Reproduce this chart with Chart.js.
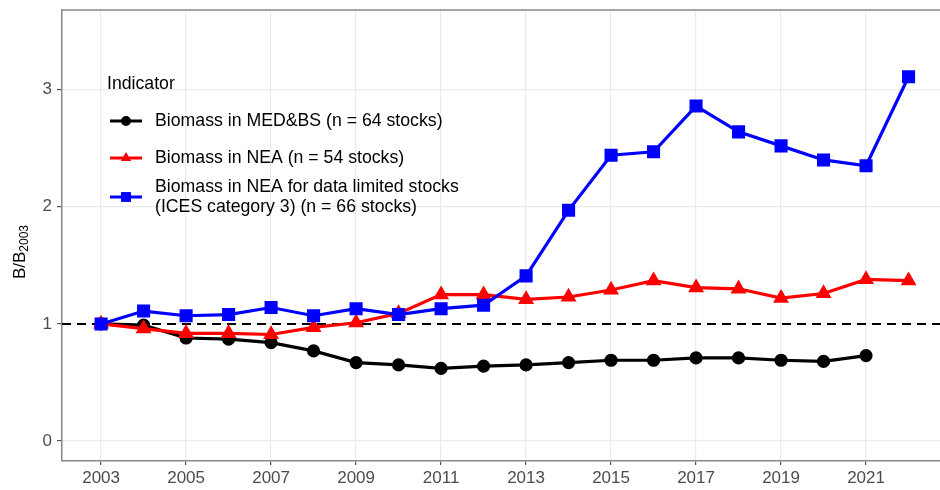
<!DOCTYPE html>
<html lang="en">

<head>
    <meta charset="UTF-8">
    <title>Biomass indicators</title>
    <style>
        body {
            margin: 0;
            padding: 0;
            background-color: #fff;
        }
    </style>
    <script src="https://cdn.jsdelivr.net/npm/chart.js"></script>
</head>

<body>
    <canvas id="biomassChart" width="940" height="490"></canvas>

    <script>
        // Datos
        const years = [2003, 2004, 2005, 2006, 2007, 2008, 2009, 2010, 2011, 2012,
            2013, 2014, 2015, 2016, 2017, 2018, 2019, 2020, 2021, 2022];
        const medbs = [1.00, 0.99, 0.88, 0.87, 0.84, 0.77, 0.67, 0.65, 0.62, 0.64,
            0.65, 0.67, 0.69, 0.69, 0.71, 0.71, 0.69, 0.68, 0.73];
        const nea = [1.00, 0.96, 0.92, 0.92, 0.91, 0.97, 1.01, 1.09, 1.25, 1.25,
            1.21, 1.23, 1.29, 1.37, 1.31, 1.30, 1.22, 1.26, 1.38, 1.37];
        const neaCat3 = [1.00, 1.11, 1.07, 1.08, 1.14, 1.07, 1.13, 1.08, 1.13, 1.16,
            1.41, 1.97, 2.44, 2.47, 2.86, 2.64, 2.52, 2.40, 2.35, 3.11];
        const xTicks = [2003, 2005, 2007, 2009, 2011, 2013, 2015, 2017, 2019, 2021];
        const yTicks = [0, 1, 2, 3];
        const legendTitle = 'Indicator';
        const seriesNames = [
            ['Biomass in MED&BS (n = 64 stocks)'],
            ['Biomass in NEA (n = 54 stocks)'],
            ['Biomass in NEA for data limited stocks', '(ICES category 3) (n = 66 stocks)']
        ];

        const FONT = "'Liberation Sans', Arial, sans-serif";
        const toPoints = (vals) => vals.map((v, i) => ({ x: years[i], y: v }));

        // quitar el relleno automatico que Chart.js deja para las etiquetas
        const noPad = (axis) => {
            axis.paddingLeft = 0;
            axis.paddingRight = 0;
            axis.paddingTop = 0;
            axis.paddingBottom = 0;
        };

        // Linea de referencia, borde, titulo del eje y leyenda dentro del panel
        const extrasPlugin = {
            id: 'extras',
            beforeDatasetsDraw(chart) {
                const { ctx, chartArea, scales } = chart;
                const y1 = scales.y.getPixelForValue(1);
                ctx.save();
                ctx.strokeStyle = '#000';
                ctx.lineWidth = 2;
                ctx.setLineDash([9, 6]);
                ctx.beginPath();
                ctx.moveTo(chartArea.left, y1);
                ctx.lineTo(chartArea.right, y1);
                ctx.stroke();
                ctx.restore();
            },
            afterDraw(chart) {
                const { ctx, chartArea } = chart;
                ctx.save();
                // borde superior
                ctx.strokeStyle = '#888';
                ctx.lineWidth = 1.5;
                ctx.beginPath();
                ctx.moveTo(chartArea.left, chartArea.top);
                ctx.lineTo(chartArea.right, chartArea.top);
                ctx.stroke();

                // titulo eje y: B/B2003 con subindice
                ctx.translate(20, 252);
                ctx.rotate(-Math.PI / 2);
                ctx.fillStyle = '#000';
                ctx.textBaseline = 'middle';
                ctx.font = '17px ' + FONT;
                const w1 = ctx.measureText('B/B').width;
                ctx.font = '12px ' + FONT;
                const w2 = ctx.measureText('2003').width;
                const start = -(w1 + w2) / 2;
                ctx.font = '17px ' + FONT;
                ctx.textAlign = 'left';
                ctx.fillText('B/B', start, 0);
                ctx.font = '12px ' + FONT;
                ctx.fillText('2003', start + w1, 5);
                ctx.restore();

                // leyenda
                ctx.save();
                ctx.font = '17.7px ' + FONT;
                ctx.fillStyle = '#000';
                ctx.textBaseline = 'middle';
                ctx.textAlign = 'left';
                ctx.fillText(legendTitle, 107, 84);
                const rows = [121, 158, 197];
                chart.data.datasets.forEach((ds, i) => {
                    const y = rows[i];
                    ctx.strokeStyle = ds.borderColor;
                    ctx.lineWidth = 3;
                    ctx.beginPath();
                    ctx.moveTo(110, y);
                    ctx.lineTo(142, y);
                    ctx.stroke();
                    ctx.fillStyle = ds.borderColor;
                    const r = ds.pointRadius;
                    ctx.beginPath();
                    if (ds.pointStyle === 'circle') {
                        ctx.arc(126, y, r, 0, Math.PI * 2);
                    } else if (ds.pointStyle === 'triangle') {
                        ctx.moveTo(126, y - r);
                        ctx.lineTo(126 + r * 0.87, y + r * 0.5);
                        ctx.lineTo(126 - r * 0.87, y + r * 0.5);
                        ctx.closePath();
                    } else {
                        const s = r * Math.SQRT1_2;
                        ctx.rect(126 - s, y - s, 2 * s, 2 * s);
                    }
                    ctx.fill();
                    ctx.fillStyle = '#000';
                    const lines = seriesNames[i];
                    lines.forEach((txt, j) => {
                        const ty = y + (j - (lines.length - 1) / 2) * 19.5;
                        ctx.fillText(txt, 155, ty);
                    });
                });
                ctx.restore();
            }
        };

        const ctx = document.getElementById('biomassChart').getContext('2d');
        const biomassChart = new Chart(ctx, {
            type: 'line',
            data: {
                datasets: [{
                    label: seriesNames[0].join(' '),
                    data: toPoints(medbs),
                    borderColor: '#000000',
                    backgroundColor: '#000000',
                    borderWidth: 3.2,
                    pointStyle: 'circle',
                    pointRadius: 5,
                    order: 2
                }, {
                    label: seriesNames[1].join(' '),
                    data: toPoints(nea),
                    borderColor: '#ff0000',
                    backgroundColor: '#ff0000',
                    borderWidth: 3.2,
                    pointStyle: 'triangle',
                    pointRadius: 6,
                    order: 1
                }, {
                    label: seriesNames[2].join(' '),
                    data: toPoints(neaCat3),
                    borderColor: '#0000ff',
                    backgroundColor: '#0000ff',
                    borderWidth: 3.2,
                    pointStyle: 'rect',
                    pointRadius: 7,
                    order: 0
                }]
            },
            options: {
                responsive: false,
                animation: false,
                layout: {
                    autoPadding: false,
                    padding: { top: 10, right: 0, bottom: 0, left: 0 }
                },
                plugins: {
                    legend: { display: false },
                    tooltip: { enabled: false }
                },
                scales: {
                    x: {
                        type: 'linear',
                        min: 2002.08,
                        max: 2022.74,
                        afterBuildTicks: (axis) => { axis.ticks = xTicks.map(v => ({ value: v })); },
                        afterFit: (axis) => { axis.height = 29; noPad(axis); },
                        ticks: {
                            callback: (v) => String(v),
                            color: '#4d4d4d',
                            font: { family: FONT, size: 17 },
                            padding: 3,
                            maxRotation: 0
                        },
                        grid: {
                            color: '#ebebeb',
                            lineWidth: 1.2,
                            tickColor: '#555',
                            tickLength: 4
                        },
                        border: { color: '#888', width: 1.5 }
                    },
                    y: {
                        min: -0.17,
                        max: 3.68,
                        afterBuildTicks: (axis) => { axis.ticks = yTicks.map(v => ({ value: v })); },
                        afterFit: (axis) => { axis.width = 62; noPad(axis); },
                        ticks: {
                            callback: (v) => String(v),
                            color: '#4d4d4d',
                            font: { family: FONT, size: 17 },
                            padding: 5
                        },
                        grid: {
                            color: '#ebebeb',
                            lineWidth: 1.2,
                            tickColor: '#555',
                            tickLength: 5
                        },
                        border: { color: '#888', width: 1.5 }
                    }
                }
            },
            plugins: [extrasPlugin]
        });
    </script>
</body>

</html>
